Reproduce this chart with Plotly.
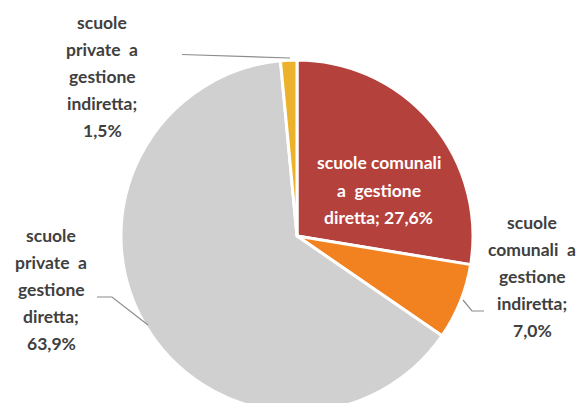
import plotly.graph_objects as go

# ---- data ----
categories = [
    "scuole comunali a gestione diretta",
    "scuole comunali a gestione indiretta",
    "scuole private a gestione diretta",
    "scuole private a gestione indiretta",
]
values = [27.6, 7.0, 63.9, 1.5]
colors = ["#B4413C", "#F2811F", "#D0D0D0", "#ECB22B"]
# words per printed line for each label (value is appended to the last line / own line)
line_words = [[2, 2, 1], [1, 2, 1, 1], [1, 2, 1, 1], [1, 2, 1, 1]]
value_on_own_line = [False, True, True, True]

W, H = 587, 420


def fmt(v):
    return f"{v:.1f}".replace(".", ",") + "%"


def label_lines(i):
    words = categories[i].split()
    out, k = [], 0
    for n in line_words[i]:
        out.append("  ".join(words[k:k + n]) if n == 2 and k > 0 else " ".join(words[k:k + n]))
        k += n
    out[-1] = out[-1] + ";"
    if value_on_own_line[i]:
        out.append(fmt(values[i]))
    else:
        out[-1] = out[-1] + " " + fmt(values[i])
    return out


# pie geometry in pixels (top-left origin)
cx, cy, r = 297, 236, 176

fig = go.Figure(go.Pie(
    labels=categories,
    values=values,
    sort=False,
    direction="clockwise",
    rotation=0,
    marker=dict(colors=colors, line=dict(color="white", width=3)),
    textinfo="none",
    hoverinfo="label+percent",
    showlegend=False,
    domain=dict(x=[(cx - r) / W, (cx + r) / W], y=[1 - (cy + r) / H, 1 - (cy - r) / H]),
))

# label layout: (center x px, first line y px, colour)
label_pos = [(379, 163, "white"), (532, 222, "#404040"), (51, 235, "#404040"), (102, 22, "#404040")]
spacing = 27.2
for i, (lx, ly, col) in enumerate(label_pos):
    for j, t in enumerate(label_lines(i)):
        fig.add_annotation(
            x=lx / W, y=1 - (ly + j * spacing) / H, xref="paper", yref="paper",
            text=t, showarrow=False, xanchor="center", yanchor="middle",
            font=dict(family="Lato", size=17.5, color=col, weight="bold"),
        )

def path(pts):
    s = "M " + " L ".join(f"{x / W},{1 - y / H}" for x, y in pts)
    return s

leaders = [
    [(463, 300), (472, 311), (484, 311)],
    [(97, 297), (112, 297), (148, 325)],
    [(182, 54.5), (290, 58)],
]
for pts in leaders:
    fig.add_shape(type="path", path=path(pts), xref="paper", yref="paper",
                  line=dict(color="#8C8C8C", width=1.2))

fig.update_layout(
    width=W, height=H,
    margin=dict(l=0, r=0, t=0, b=0),
    paper_bgcolor="white", plot_bgcolor="white",
)

fig.write_html("out.html", config={"displayModeBar": False},
               post_script="document.body.style.margin='0';document.body.style.overflow='hidden';")
